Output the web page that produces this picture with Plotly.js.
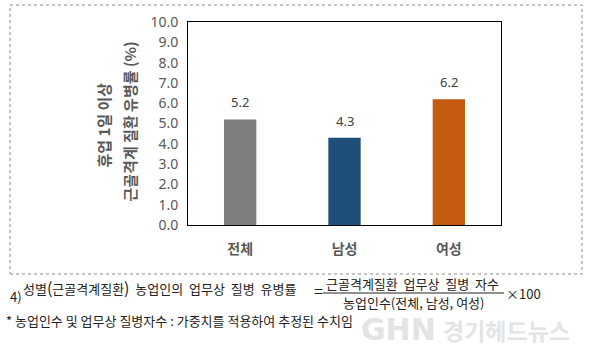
<!DOCTYPE html>
<html>
<head>
<meta charset="utf-8">
<script src="https://cdn.plot.ly/plotly-3.0.1.min.js"></script>
<style>
  html, body { margin: 0; padding: 0; background: #fff; }
  #chart { width: 590px; height: 360px; }
</style>
</head>
<body>
<div id="chart"></div>
<script>
// ---- data ----
const categories = ['전체', '남성', '여성'];
const values = [5.2, 4.3, 6.2];
const barColors = ['#7f7f7f', '#1f4e79', '#c55a11'];
const yTickVals = [0, 1, 2, 3, 4, 5, 6, 7, 8, 9, 10];
const yTickText = ['0.0', '1.0', '2.0', '3.0', '4.0', '5.0', '6.0', '7.0', '8.0', '9.0', '10.0'];
const yTitleLine1 = '휴업 1일 이상';
const yTitleLine2 = '근골격계 질환 유병률 (%)';
const noteLead = '4)';
const noteMain = '성별<span style="font-size:16px">(</span>근골격계질환<span style="font-size:16px">)</span>\u00a0\u00a0농업인의\u00a0\u00a0업무상\u00a0\u00a0질병\u00a0\u00a0유병률';
const noteNumer = '근골격계질환\u00a0\u00a0업무상\u00a0\u00a0질병\u00a0\u00a0자수';
const noteDenom = '농업인수(전체, 남성, 여성)';
const noteTimes = '×100';
const noteStar = '* 농업인수 및 업무상 질병자수 : 가중치를 적용하여 추정된 수치임';
const wmLogo = 'GHN';
const wmText = '경기헤드뉴스';

// ---- layout geometry ----
const W = 590, H = 360;
const ML = 188, MR = 89, MT = 22, MB = 135;
const PW = W - ML - MR, PH = H - MT - MB;
const X = px => (px - ML) / PW;
const Y = py => (H - MB - py) / PH;

const KR = '"Noto Sans CJK KR", "Noto Sans", sans-serif';
const NUM = '"Noto Sans", "Open Sans", sans-serif';

const trace = {
  type: 'bar',
  x: categories,
  y: values,
  marker: { color: barColors },
  hoverinfo: 'none'
};

const annotations = [];

function note(text, x, y, opts) {
  return Object.assign({
    xref: 'paper', yref: 'paper', x: X(x), y: Y(y), text: text,
    showarrow: false, xanchor: 'left', yanchor: 'middle', borderpad: 0,
    font: { family: KR, size: 13, color: '#222' }
  }, opts || {});
}

// watermark first so it sits behind the footnote
annotations.push(
  note('<b>' + wmLogo + '</b>', 398, 329, { xanchor: 'center',
    font: { family: '"DejaVu Sans", sans-serif', size: 30, color: '#e4e4e4' } }),
  note('<b>' + wmText + '</b>', 442, 330,
    { font: { family: KR, size: 23, color: '#e4e4e4' } })
);

categories.forEach((c, i) => {
  annotations.push({
    x: c, y: values[i], xref: 'x', yref: 'y',
    text: values[i].toFixed(1), showarrow: false,
    yanchor: 'bottom', yshift: 6,
    font: { family: NUM, size: 13, color: '#404040' }
  });
});

annotations.push(
  note('<b>' + yTitleLine1 + '</b>', 103.5, 125, { textangle: -90, xanchor: 'center',
    font: { family: KR, size: 15, color: '#595959' } }),
  note('<b>' + yTitleLine2 + '</b>', 129.5, 122, { textangle: -90, xanchor: 'center',
    font: { family: KR, size: 15, color: '#595959' } }),
  note(noteLead, 9, 296),
  note(noteMain, 22, 287),
  note('=', 318, 290, { xanchor: 'center', font: { family: KR, size: 16, color: '#222' } }),
  note(noteNumer, 412, 283, { xanchor: 'center' }),
  note(noteDenom, 413, 302, { xanchor: 'center' }),
  note(noteTimes, 505, 293),
  note(noteStar, 5, 320)
);

const layout = {
  width: W, height: H,
  margin: { l: ML, r: MR, t: MT, b: MB, pad: 0 },
  paper_bgcolor: '#fff', plot_bgcolor: '#fff',
  showlegend: false,
  bargap: 0.69,
  xaxis: {
    type: 'category',
    showline: true, linecolor: '#000', linewidth: 1, mirror: true,
    showgrid: false, zeroline: false, ticks: '',
    ticklabelstandoff: 11,
    tickfont: { family: KR, size: 14, color: '#595959', weight: 700 }
  },
  yaxis: {
    range: [0, 10],
    tickvals: yTickVals, ticktext: yTickText,
    showline: true, linecolor: '#000', linewidth: 1, mirror: true,
    showgrid: false, zeroline: false, ticks: '',
    ticklabelstandoff: 6,
    tickfont: { family: NUM, size: 14, color: '#595959' }
  },
  annotations: annotations,
  shapes: [
    { type: 'rect', xref: 'paper', yref: 'paper',
      x0: X(10), x1: X(582), y0: Y(274), y1: Y(5),
      line: { color: '#8c8c8c', width: 1, dash: 'dot' } },
    { type: 'line', xref: 'paper', yref: 'paper',
      x0: X(323), x1: X(504), y0: Y(293), y1: Y(293),
      line: { color: '#222', width: 1 } }
  ]
};

Plotly.newPlot('chart', [trace], layout, { staticPlot: true, displayModeBar: false });
</script>
</body>
</html>
